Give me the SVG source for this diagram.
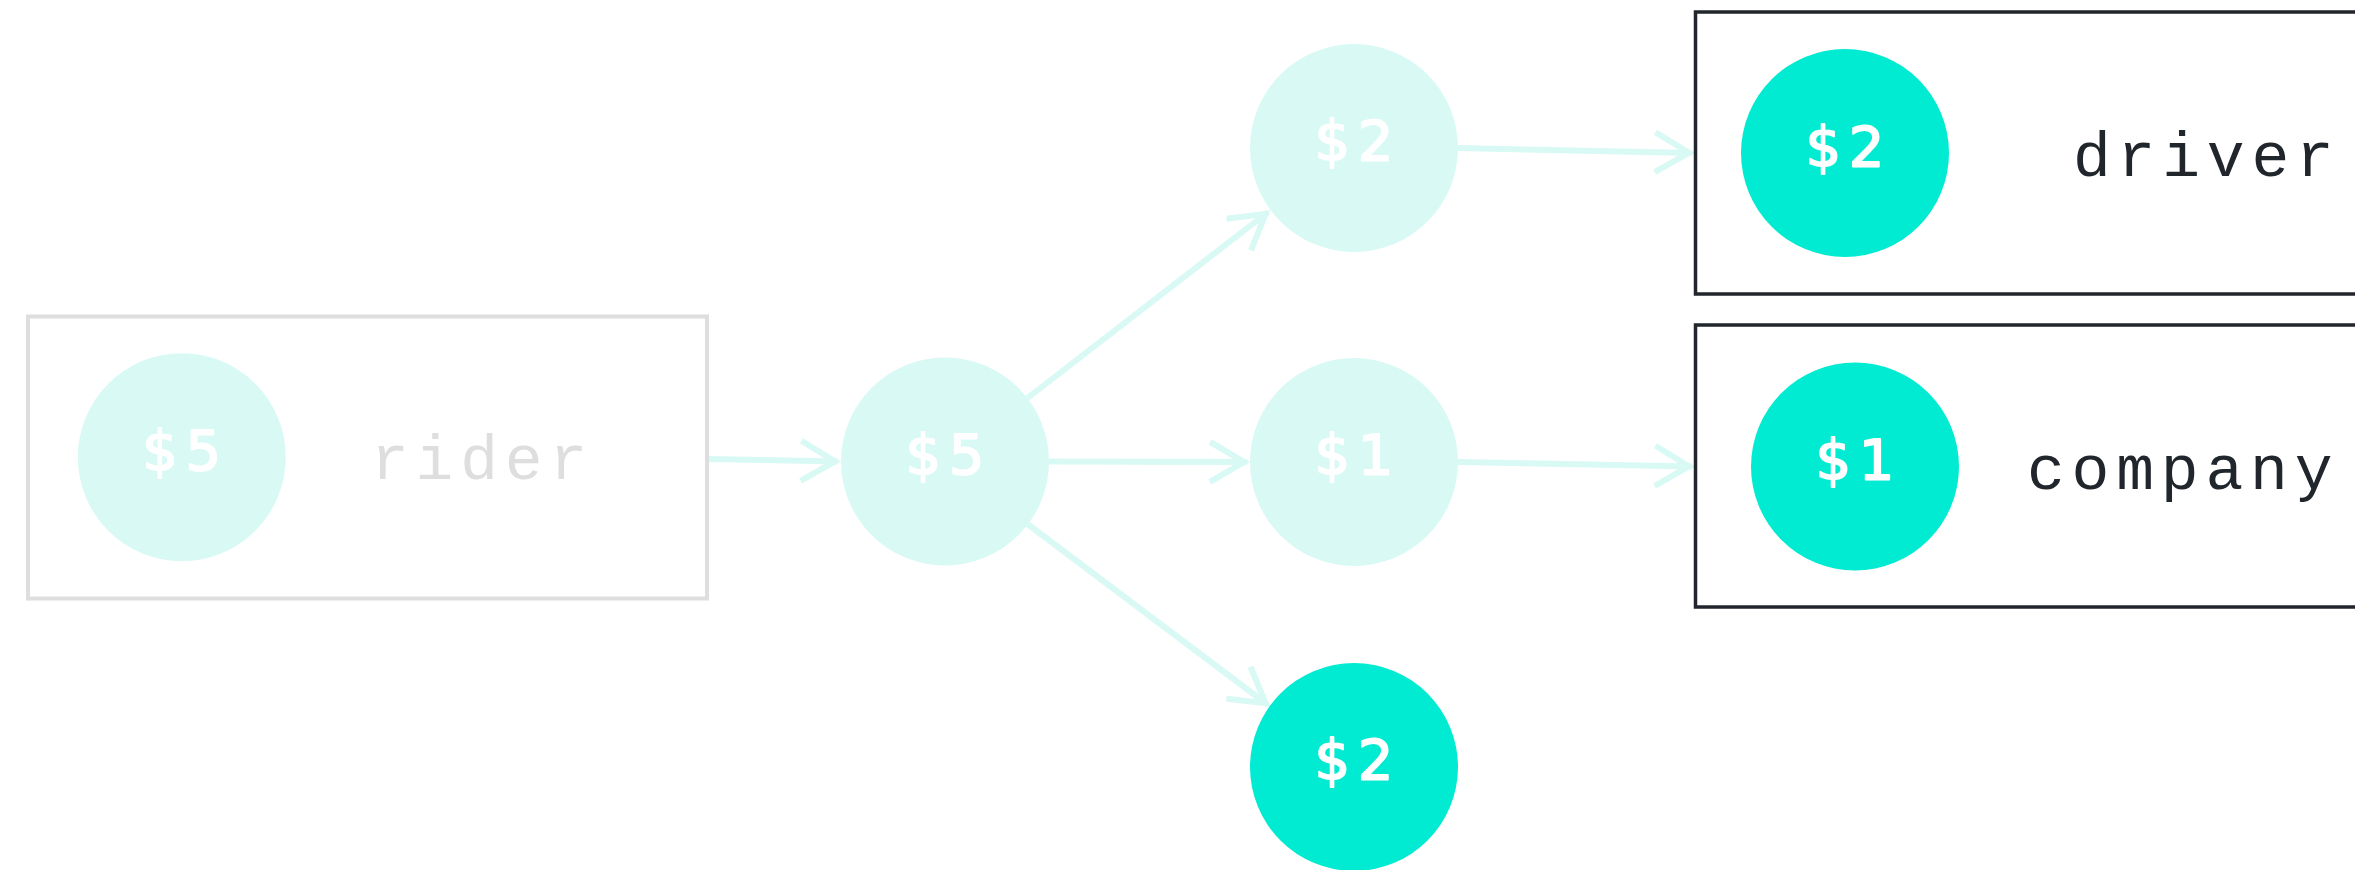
<svg xmlns="http://www.w3.org/2000/svg" width="2355" height="870" viewBox="0 0 2355 870">
  <style>
    .bg { fill: #ffffff; }
    .light { fill: #d9f9f4; }
    .teal { fill: #00ebd1; }
    .money { font-family: "DejaVu Sans", "Liberation Sans", sans-serif; font-weight: normal; font-size: 56px; letter-spacing: 7.5px; fill: #ffffff; stroke: #ffffff; stroke-width: 1.8px; stroke-linejoin: round; text-anchor: middle; }
    .label { font-family: "Liberation Mono", "DejaVu Sans Mono", monospace; font-size: 63px; letter-spacing: 6.8px; }
    .faded { fill: #dedede; }
    .dark { fill: #21262d; }
    .box-faded { fill: none; stroke: #dedede; stroke-width: 4; }
    .box-dark { fill: none; stroke: #21262d; stroke-width: 3.5; }
    .edge { fill: none; stroke: #d9f9f4; stroke-width: 6; marker-end: url(#arrow); }
  </style>
  <defs>
    <marker id="arrow" markerUnits="userSpaceOnUse" viewBox="-40 -26 46 52" refX="3" refY="0" markerWidth="46" markerHeight="52" orient="auto">
      <path d="M -34 -20 L 0 0 L -34 20" fill="none" stroke="#d9f9f4" stroke-width="6"/>
    </marker>
  </defs>
  <rect class="bg" x="0" y="0" width="2355" height="870"/>

  <g id="connectors">
    <line class="edge" x1="707" y1="459" x2="838" y2="461.5"/>
    <line class="edge" x1="1027.5" y1="398" x2="1268" y2="212"/>
    <line class="edge" x1="1049" y1="461.5" x2="1247" y2="462"/>
    <line class="edge" x1="1027.5" y1="524" x2="1268" y2="705"/>
    <line class="edge" x1="1458" y1="148" x2="1692" y2="153"/>
    <line class="edge" x1="1458" y1="462" x2="1692" y2="466.5"/>
  </g>

  <g id="rider">
    <rect class="box-faded" x="28" y="316.5" width="679" height="282"/>
    <circle class="light" cx="181.8" cy="457.2" r="104"/>
    <text class="money" x="185.5" y="470">$5</text>
    <text class="label faded" x="371" y="479">rider</text>
  </g>

  <g id="pool">
    <circle class="light" cx="945" cy="461.5" r="104"/>
    <text class="money" x="948.7" y="473.5">$5</text>
  </g>

  <g id="split-driver">
    <circle class="light" cx="1354" cy="148" r="104"/>
    <text class="money" x="1357.7" y="160">$2</text>
  </g>

  <g id="split-company">
    <circle class="light" cx="1354" cy="462" r="104"/>
    <text class="money" x="1357.7" y="474">$1</text>
  </g>

  <g id="split-remaining">
    <circle class="teal" cx="1354" cy="767" r="104"/>
    <text class="money" x="1357.7" y="779">$2</text>
  </g>

  <g id="driver">
    <rect class="box-dark" x="1695.5" y="12" width="679" height="282"/>
    <circle class="teal" cx="1845" cy="153" r="104"/>
    <text class="money" x="1848.7" y="165.5">$2</text>
    <text class="label dark" x="2073" y="176">driver</text>
  </g>

  <g id="company">
    <rect class="box-dark" x="1695.5" y="325" width="679" height="282"/>
    <circle class="teal" cx="1855" cy="466.5" r="104"/>
    <text class="money" x="1858.7" y="478.5">$1</text>
    <text class="label dark" x="2027" y="489">company</text>
  </g>
</svg>
